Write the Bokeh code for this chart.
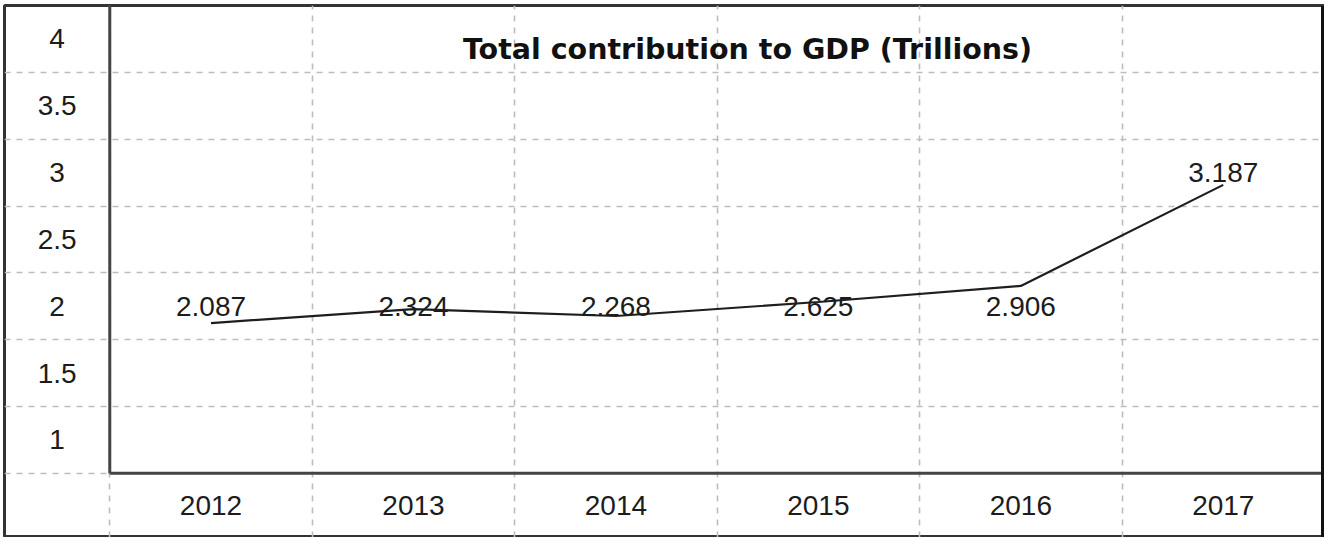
import numpy as np
from bokeh.plotting import figure
from bokeh.models import Range1d, Grid, FixedTicker, Label
from bokeh.core.properties import value
from bokeh.embed import file_html
from bokeh.resources import INLINE

# ---- data ----
years = ["2012", "2013", "2014", "2015", "2016", "2017"]
gdp_labels = [2.087, 2.324, 2.268, 2.625, 2.906, 3.187]      # data-label values
line_y = [1.874, 1.979, 1.927, 2.032, 2.152, 2.908]          # plotted line heights
y_ticks = [1, 1.5, 2, 2.5, 3, 3.5, 4]
y_tick_labels = ["1", "1.5", "2", "2.5", "3", "3.5", "4"]
title = "Total contribution to GDP (Trillions)"

# ---- layout constants ----
X_START, X_END = -0.52, 6.0
Y_START, Y_END = 0.27, 4.25
Y_AXIS = 0.75
GRID_COLOR = "#bdbdbd"
TEXT_COLOR = "#1c1c1c"
AXIS_COLOR = "#444444"

p = figure(width=1324, height=537,
           x_range=Range1d(X_START, X_END), y_range=Range1d(Y_START, Y_END),
           x_axis_location=None, y_axis_location=None,
           toolbar_location=None, output_backend="svg",
           min_border_left=4, min_border_top=5, min_border_right=0, min_border_bottom=0)
p.background_fill_color = "white"
p.border_fill_color = "white"
p.outline_line_color = "#333333"
p.outline_line_width = 3
p.grid.visible = False

xc = [i + 0.5 for i in range(len(years))]

vgrid = Grid(dimension=0, ticker=FixedTicker(ticks=list(range(len(years)))),
             grid_line_color=GRID_COLOR, grid_line_dash="6 6", grid_line_width=1.6)
hgrid = Grid(dimension=1, ticker=FixedTicker(ticks=[t - 0.25 for t in y_ticks]),
             grid_line_color=GRID_COLOR, grid_line_dash="6 6", grid_line_width=1.6)
p.add_layout(vgrid)
p.add_layout(hgrid)

# axis lines and heavier right edge
p.segment(x0=[0], y0=[Y_AXIS], x1=[0], y1=[Y_END], line_color=AXIS_COLOR, line_width=3)
p.segment(x0=[0], y0=[Y_AXIS], x1=[X_END], y1=[Y_AXIS], line_color=AXIS_COLOR, line_width=3)
p.segment(x0=[X_END], y0=[Y_START], x1=[X_END], y1=[Y_END], line_color="#111111", line_width=7)

# series line
p.line(x=xc, y=line_y, line_color="#1e1e1e", line_width=2.2)

# data labels
p.text(x=xc, y=list(np.floor(gdp_labels)), text=[f"{v:.3f}" for v in gdp_labels],
       text_font=value("Liberation Sans"), text_font_size="28px", text_color=TEXT_COLOR,
       text_align="center", text_baseline="middle")

# tick labels
p.text(x=[X_START / 2] * len(y_ticks), y=y_ticks, text=y_tick_labels,
       text_font=value("Liberation Sans"), text_font_size="28px", text_color=TEXT_COLOR,
       text_align="center", text_baseline="middle")
p.text(x=xc, y=[(Y_START + Y_AXIS) / 2] * len(years), text=years,
       text_font=value("Liberation Sans"), text_font_size="28px", text_color=TEXT_COLOR,
       text_align="center", text_baseline="middle")

# title
p.add_layout(Label(x=3.15, y=3.92, text=title, text_font="DejaVu Sans",
                   text_font_style="bold", text_font_size="28.5px", text_color="#111111",
                   text_align="center", text_baseline="middle"))

open("out.html", "w").write(file_html(p, INLINE))
